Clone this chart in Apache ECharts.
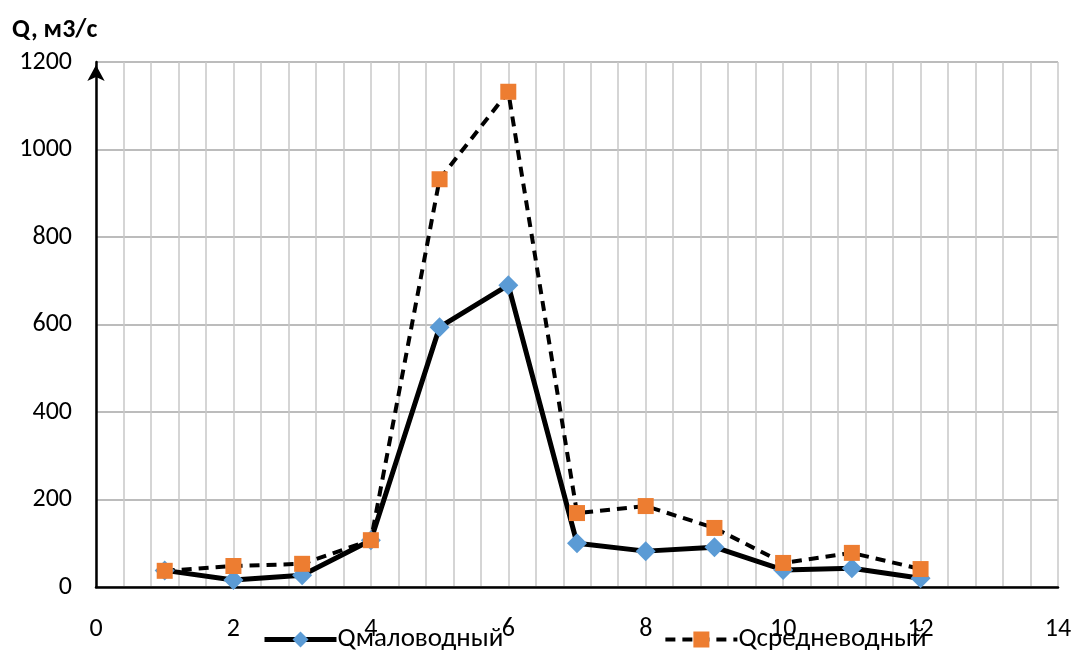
<!DOCTYPE html>
<html>
<head>
<meta charset="utf-8">
<script src="https://cdn.jsdelivr.net/npm/echarts@6/dist/echarts.min.js"></script>
<style>
html,body{margin:0;padding:0;background:#fff;}
#chart{width:1075px;height:650px;}
</style>
</head>
<body>
<div id="chart"></div>
<script>
const months = [1,2,3,4,5,6,7,8,9,10,11,12];
const qLow = [38,16,27,107,594,690,100,82,91,39,43,20];
const qMid = [37,48,53,107,932,1132,169,185,135,55,78,41];
const seriesNames = ['Qмаловодный','Qсредневодный'];
const yTitle = 'Q, м3/с';

const font = 'Carlito, "Open Sans", "Liberation Sans", sans-serif';
const chart = echarts.init(document.getElementById('chart'));
chart.setOption({
  animation:false,
  backgroundColor:'#fff',
  title:{text:yTitle,left:7,top:12,textStyle:{fontFamily:font,fontSize:26,fontWeight:'bold',color:'#000'}},
  grid:{left:96,right:17,top:62,bottom:63,containLabel:false},
  legend:{
    top:621,left:257,itemGap:160,itemWidth:72,itemHeight:20,
    textStyle:{fontFamily:font,fontSize:27,color:'#000',padding:[0,0,0,-4]},
    data:[
      {name:seriesNames[0],lineStyle:{width:5}},
      {name:seriesNames[1],lineStyle:{width:4}}
    ]
  },
  xAxis:{
    type:'value',min:0,max:14,interval:2,
    axisLine:{show:true,onZero:false,lineStyle:{color:'#000',width:2.5}},
    axisTick:{show:false},
    axisLabel:{fontFamily:font,fontSize:26,color:'#000',margin:29},
    splitLine:{show:true,lineStyle:{color:'#c8c8c8',width:1.5}},
    minorTick:{show:false,splitNumber:5},
    minorSplitLine:{show:true,lineStyle:{color:'#c8c8c8',width:1.5}}
  },
  yAxis:{
    type:'value',min:0,max:1200,interval:200,
    axisLine:{show:true,symbol:['none','arrow'],symbolSize:[13,16],symbolOffset:[0,-3],lineStyle:{color:'#000',width:2.5}},
    axisTick:{show:false},
    axisLabel:{fontFamily:font,fontSize:26,color:'#000',margin:24,formatter:v=>String(v)},
    splitLine:{show:true,lineStyle:{color:'#a6a6a6',width:1.5}}
  },
  series:[
    {name:seriesNames[0],type:'line',data:months.map((m,i)=>[m,qLow[i]]),
     symbol:'diamond',symbolSize:20,itemStyle:{color:'#5B9BD5'},
     lineStyle:{color:'#000',width:5}},
    {name:seriesNames[1],type:'line',data:months.map((m,i)=>[m,qMid[i]]),
     symbol:'rect',symbolSize:16,itemStyle:{color:'#ED7D31'},
     lineStyle:{color:'#000',width:4,type:[10,7]}}
  ]
});
</script>
</body>
</html>
